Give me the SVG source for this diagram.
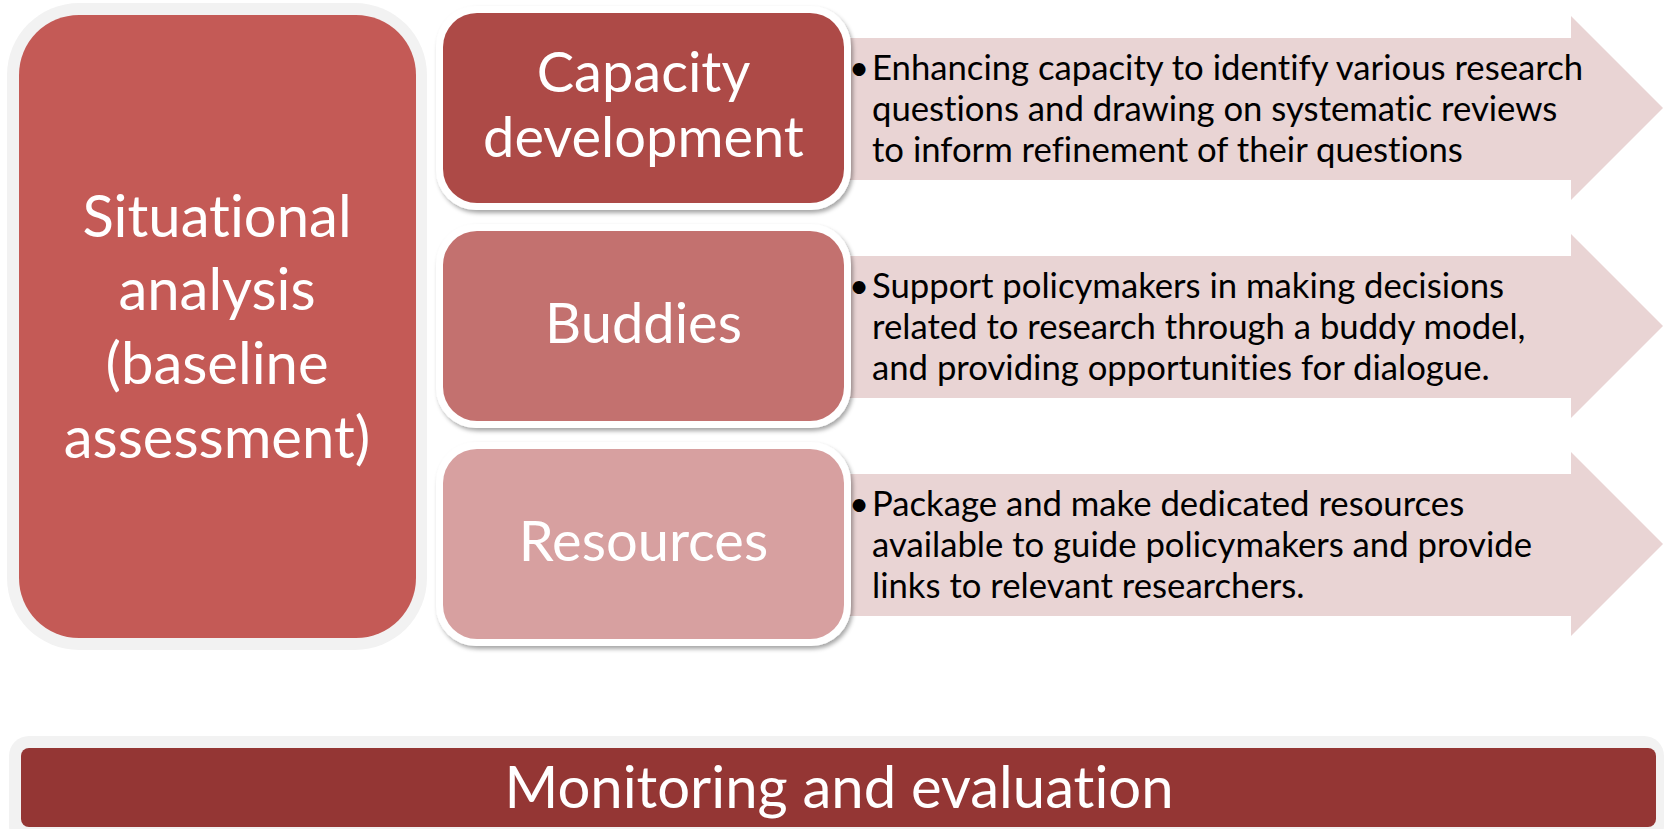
<svg xmlns="http://www.w3.org/2000/svg" width="1665" height="829" viewBox="0 0 1665 829">
<defs>
<filter id="sh" x="-10%" y="-10%" width="120%" height="130%">
<feDropShadow dx="2" dy="3" stdDeviation="2" flood-color="#000" flood-opacity="0.35"/>
</filter>
</defs>
<style>
text{font-family:Lato,"Open Sans",sans-serif;font-variant-ligatures:none}
.big{font-size:56px;fill:#fff;text-anchor:middle}
.desc{font-size:34.7px;fill:#000}
.arrow{fill:#e9d4d4}
.ring{fill:#fff}
</style>
<g id="connectors">
<path class="arrow" d="M790 38 H1571 V16 L1663 108 L1571 200 V180 H790 Z"/>
<path class="arrow" d="M790 256 H1571 V234 L1663 326 L1571 418 V398 H790 Z"/>
<path class="arrow" d="M790 474 H1571 V452 L1663 544 L1571 636 V616 H790 Z"/>
</g>
<g id="situational">
<rect x="7" y="3" width="420" height="647" rx="72" fill="#f2f2f2"/>
<rect x="19" y="15" width="397" height="623" rx="60" fill="#c45a56"/>
<text class="big" x="217" y="237" style="font-size:58px">Situational</text>
<text class="big" x="217" y="310" style="font-size:58px">analysis</text>
<text class="big" x="217" y="384" style="font-size:58px">(baseline</text>
<text class="big" x="217" y="458" style="font-size:58px">assessment)</text>
</g>
<g id="capacity">
<rect class="ring" x="436" y="6" width="415" height="204" rx="40" filter="url(#sh)"/>
<rect x="443" y="13" width="401" height="190" rx="34" fill="#ad4a47"/>
<text class="big" x="643.5" y="92">Capacity</text>
<text class="big" x="643.5" y="157">development</text>
</g>
<g id="buddies">
<rect class="ring" x="436" y="224" width="415" height="204" rx="40" filter="url(#sh)"/>
<rect x="443" y="231" width="401" height="190" rx="34" fill="#c3716f"/>
<text class="big" x="643.5" y="343">Buddies</text>
</g>
<g id="resources">
<rect class="ring" x="436" y="442" width="415" height="204" rx="40" filter="url(#sh)"/>
<rect x="443" y="449" width="401" height="190" rx="34" fill="#d7a0a0"/>
<text class="big" x="643.5" y="561">Resources</text>
</g>
<g id="desc-capacity">
<text class="desc" x="849" y="80">•</text>
<text class="desc" x="872" y="80">Enhancing capacity to identify various research</text>
<text class="desc" x="872" y="121">questions and drawing on systematic reviews</text>
<text class="desc" x="872" y="162">to inform refinement of their questions</text>
</g>
<g id="desc-buddies">
<text class="desc" x="849" y="298">•</text>
<text class="desc" x="872" y="298">Support policymakers in making decisions</text>
<text class="desc" x="872" y="339">related to research through a buddy model,</text>
<text class="desc" x="872" y="380">and providing opportunities for dialogue.</text>
</g>
<g id="desc-resources">
<text class="desc" x="849" y="516">•</text>
<text class="desc" x="872" y="516">Package and make dedicated resources</text>
<text class="desc" x="872" y="557">available to guide policymakers and provide</text>
<text class="desc" x="872" y="598">links to relevant researchers.</text>
</g>
<g id="monitoring">
<rect x="9" y="736" width="1655" height="110" rx="20" fill="#f2f2f2"/>
<rect x="21" y="748" width="1635" height="79" rx="8" fill="#943634"/>
<text class="big" x="839" y="808" style="font-size:58px">Monitoring and evaluation</text>
</g>
</svg>
